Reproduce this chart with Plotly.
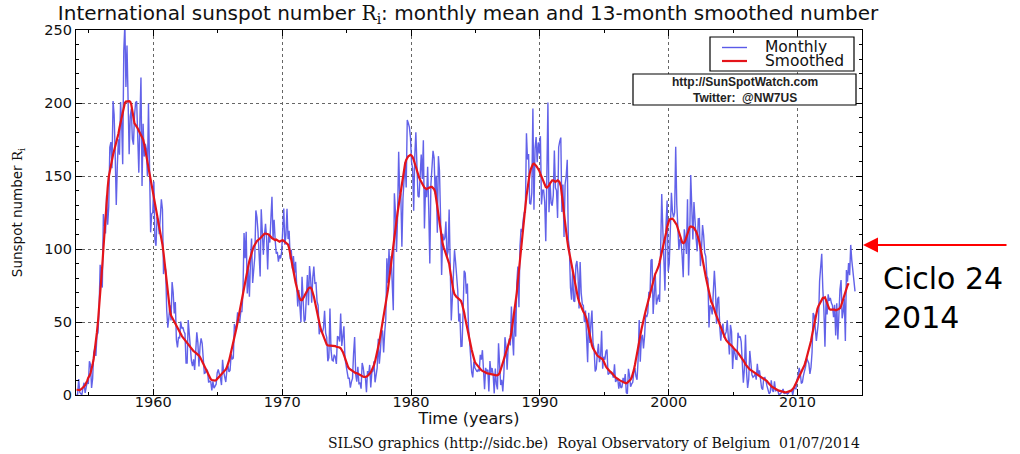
import numpy as np
import plotly.graph_objects as go

# ---------------- data ----------------
start_year = 1954

# monthly mean sunspot number, Jan 1954 .. Jun 2014 (12 values per row = one year)
monthly_ri = [
    0.2, 0.5, 10.9, 1.8, 0.8, 0.2, 4.8, 8.4, 1.5, 7.0, 9.2, 7.6,             # 1954
    23.1, 20.8, 4.9, 11.3, 28.9, 31.7, 26.7, 40.7, 42.7, 58.5, 89.2, 76.9,   # 1955
    73.6, 124.0, 118.4, 110.7, 136.6, 116.6, 129.1, 169.6, 173.2, 155.3, 201.3, 192.1,  # 1956
    165.0, 130.2, 157.4, 175.2, 164.6, 200.7, 187.2, 158.0, 235.8, 253.8, 210.9, 239.4,  # 1957
    202.5, 164.9, 190.7, 196.0, 175.3, 171.5, 191.4, 200.2, 201.2, 181.5, 152.3, 187.6,  # 1958
    217.4, 143.1, 185.7, 163.3, 172.0, 168.7, 149.6, 199.6, 145.2, 111.4, 124.0, 125.0,  # 1959
    146.3, 106.0, 102.2, 122.0, 119.6, 110.2, 121.7, 134.1, 127.2, 82.8, 89.6, 85.6,     # 1960
    57.9, 46.1, 53.0, 61.4, 51.0, 77.4, 70.2, 55.8, 63.6, 37.7, 32.6, 39.9,   # 1961
    38.7, 50.3, 45.6, 46.4, 43.7, 42.0, 21.8, 21.8, 51.3, 39.5, 26.9, 23.2,   # 1962
    19.8, 24.4, 17.1, 29.3, 43.0, 35.9, 19.6, 33.2, 38.8, 35.3, 23.4, 14.9,   # 1963
    15.3, 17.7, 16.5, 8.6, 9.5, 9.1, 3.1, 9.3, 4.7, 6.1, 7.4, 15.1,           # 1964
    17.5, 14.2, 11.7, 6.8, 24.1, 15.9, 11.9, 8.9, 16.8, 20.1, 15.8, 17.0,     # 1965
    28.2, 24.4, 25.3, 48.7, 45.3, 47.7, 56.7, 51.2, 50.2, 57.2, 57.2, 70.4,   # 1966
    110.9, 93.6, 111.8, 69.5, 86.5, 67.3, 91.5, 107.2, 76.8, 88.2, 94.3, 126.4,  # 1967
    121.8, 111.9, 92.2, 81.2, 127.2, 110.3, 96.1, 109.3, 117.2, 107.7, 86.0, 109.8,  # 1968
    104.4, 120.5, 135.8, 106.8, 120.0, 106.0, 96.8, 98.0, 91.3, 95.7, 93.5, 97.9,    # 1969
    111.5, 127.8, 102.9, 109.5, 127.5, 106.8, 112.5, 93.0, 99.5, 86.6, 95.2, 83.5,   # 1970
    91.3, 79.0, 60.7, 71.8, 57.5, 49.8, 81.0, 61.4, 50.2, 51.7, 63.2, 82.2,   # 1971
    61.5, 88.4, 80.1, 63.2, 80.5, 88.0, 76.5, 76.8, 64.0, 61.3, 41.6, 45.3,   # 1972
    43.4, 42.9, 46.0, 57.7, 42.4, 39.5, 23.1, 25.6, 59.3, 30.7, 23.9, 23.3,   # 1973
    27.6, 26.0, 21.3, 40.3, 39.5, 36.6, 55.8, 33.6, 40.2, 47.1, 25.0, 20.5,   # 1974
    18.9, 11.5, 11.5, 5.1, 9.0, 11.4, 28.2, 39.7, 13.9, 9.1, 19.4, 7.8,       # 1975
    8.1, 4.3, 21.9, 18.8, 12.4, 12.2, 1.9, 16.4, 13.5, 20.6, 5.2, 15.3,       # 1976
    16.4, 23.1, 8.7, 12.9, 18.6, 38.5, 21.4, 30.1, 44.0, 43.8, 29.1, 43.2,    # 1977
    51.9, 93.6, 76.5, 99.7, 82.7, 95.1, 70.4, 58.1, 138.2, 125.1, 97.9, 122.7,      # 1978
    166.6, 137.5, 138.0, 101.5, 134.4, 149.5, 159.4, 142.2, 188.4, 186.2, 183.3, 176.3,  # 1979
    159.6, 155.0, 126.2, 164.1, 179.9, 157.3, 136.3, 135.4, 155.0, 164.7, 147.9, 174.4,  # 1980
    114.0, 141.3, 135.5, 156.4, 127.5, 90.0, 143.8, 158.7, 167.3, 162.4, 137.5, 150.1,   # 1981
    111.2, 163.6, 153.8, 122.0, 82.2, 110.4, 106.1, 107.6, 118.8, 94.7, 98.1, 127.0,     # 1982
    84.3, 51.0, 66.5, 80.7, 99.2, 91.1, 82.2, 71.8, 50.3, 55.8, 33.3, 33.4,   # 1983
    57.0, 85.1, 83.5, 69.4, 76.4, 46.1, 37.4, 25.5, 15.7, 12.0, 22.8, 18.7,   # 1984
    16.5, 15.9, 17.2, 16.2, 27.5, 24.2, 30.7, 11.1, 3.9, 18.6, 16.2, 17.3,    # 1985
    2.5, 23.2, 15.1, 18.5, 13.7, 1.1, 18.1, 7.4, 3.8, 35.4, 15.2, 6.8,        # 1986
    10.4, 2.4, 14.7, 39.6, 33.0, 17.4, 33.0, 38.7, 33.9, 60.6, 39.9, 27.1,    # 1987
    59.0, 40.0, 76.2, 88.0, 60.1, 101.8, 113.8, 111.6, 120.1, 125.1, 125.1, 179.2,   # 1988
    161.3, 165.1, 131.4, 130.6, 138.5, 196.2, 126.9, 168.9, 176.7, 159.4, 173.0, 165.5,  # 1989
    177.3, 130.5, 140.3, 140.3, 132.2, 105.4, 149.4, 200.3, 125.2, 145.5, 131.4, 129.7,  # 1990
    136.9, 167.5, 141.9, 140.0, 121.3, 169.7, 173.7, 176.3, 125.3, 144.1, 108.2, 144.4,  # 1991
    150.0, 161.1, 106.7, 99.8, 73.8, 65.2, 85.7, 64.5, 63.9, 88.7, 91.8, 82.6,       # 1992
    59.3, 91.0, 69.8, 62.2, 61.3, 49.8, 57.9, 42.3, 22.4, 56.4, 35.6, 48.9,   # 1993
    57.8, 35.5, 31.7, 16.1, 17.8, 28.0, 35.1, 22.5, 25.7, 44.0, 18.0, 26.2,   # 1994
    24.2, 29.9, 31.1, 14.0, 14.5, 15.6, 14.5, 14.3, 11.8, 21.1, 9.0, 10.0,    # 1995
    11.5, 4.4, 9.2, 4.8, 5.5, 11.8, 8.2, 14.4, 1.6, 0.9, 17.9, 13.3,          # 1996
    5.7, 7.6, 8.7, 15.5, 18.5, 12.7, 10.4, 24.4, 51.3, 22.8, 39.0, 41.2,      # 1997
    31.9, 40.3, 54.8, 53.4, 56.3, 70.7, 66.6, 92.2, 92.9, 55.5, 74.0, 81.9,   # 1998
    62.0, 66.3, 68.8, 63.7, 106.4, 137.7, 113.5, 93.7, 71.5, 116.7, 133.2, 84.6,     # 1999
    90.1, 112.9, 138.5, 125.5, 121.6, 124.9, 170.1, 130.5, 109.7, 99.4, 106.8, 104.4,  # 2000
    95.6, 80.6, 113.5, 107.7, 96.6, 134.0, 81.8, 106.4, 150.7, 125.5, 106.5, 132.2,    # 2001
    114.1, 107.4, 98.4, 120.7, 120.8, 88.3, 99.6, 116.4, 109.6, 97.5, 95.0, 81.6,      # 2002
    79.5, 46.2, 61.5, 60.0, 55.2, 77.4, 85.0, 72.7, 48.8, 65.6, 67.2, 47.0,   # 2003
    37.2, 46.0, 48.9, 39.3, 41.5, 43.2, 51.1, 40.9, 27.7, 48.0, 43.5, 17.9,   # 2004
    31.3, 29.2, 24.5, 24.4, 42.7, 39.3, 40.1, 36.4, 22.1, 8.5, 18.0, 41.2,    # 2005
    15.3, 4.9, 10.6, 30.2, 22.3, 13.9, 12.2, 12.9, 14.4, 10.5, 21.4, 13.6,    # 2006
    16.9, 10.6, 4.8, 3.7, 11.7, 12.0, 10.0, 6.2, 2.4, 0.9, 1.7, 10.1,         # 2007
    3.3, 2.1, 9.3, 2.9, 3.2, 3.4, 0.5, 0.5, 1.1, 2.9, 4.1, 0.8,               # 2008
    1.5, 1.4, 0.7, 1.2, 2.9, 2.6, 3.5, 0.0, 4.2, 4.6, 4.2, 10.6,              # 2009
    13.1, 18.6, 15.4, 7.9, 8.8, 13.5, 16.1, 19.6, 25.2, 23.5, 21.6, 14.5,     # 2010
    19.0, 29.4, 56.2, 54.4, 41.6, 37.0, 43.9, 50.6, 78.0, 88.0, 96.7, 73.0,   # 2011
    58.3, 33.1, 64.3, 55.2, 69.0, 64.5, 66.5, 63.0, 61.4, 53.3, 61.8, 40.8,   # 2012
    62.9, 38.1, 57.9, 72.4, 78.7, 52.5, 57.0, 66.0, 37.0, 85.6, 77.6, 90.3,   # 2013
    82.0, 102.8, 92.2, 84.7, 75.2, 71.0,                                      # 2014
]

# 13-month smoothed sunspot number, Jan 1954 .. Dec 2013
smoothed_ri = [
    3.6, 3.5, 3.4, 3.4, 3.8, 4.3, 5.0, 5.8, 6.8, 7.9, 9.8, 12.0,              # 1954
    13.0, 15.0, 17.5, 21.0, 25.0, 30.0, 36.0, 43.0, 50.5, 59.0, 68.0, 78.0,   # 1955
    89.0, 100.0, 112.0, 124.0, 134.0, 142.0, 149.5, 154.0, 158.0, 161.5, 164.5, 167.5,  # 1956
    170.0, 172.5, 175.5, 179.0, 183.0, 186.5, 190.0, 193.5, 197.0, 200.0, 201.0, 201.2,  # 1957
    201.0, 201.3, 200.8, 199.0, 194.5, 189.0, 186.0, 185.0, 184.0, 182.5, 181.0, 179.5,  # 1958
    178.5, 177.0, 175.0, 172.0, 168.0, 163.5, 159.0, 154.5, 150.0, 146.0, 142.0, 138.5,  # 1959
    135.0, 131.0, 127.0, 123.0, 119.0, 115.0, 111.0, 107.0, 103.0, 97.5, 91.0, 84.0,     # 1960
    76.0, 69.0, 63.0, 58.0, 54.5, 53.0, 52.0, 50.5, 48.5, 47.0, 46.0, 44.5,   # 1961
    43.0, 41.5, 40.5, 39.5, 38.5, 37.5, 36.5, 35.5, 34.5, 33.5, 32.5, 31.5,   # 1962
    30.5, 30.0, 29.5, 29.0, 28.5, 28.0, 27.0, 26.0, 24.5, 22.5, 20.5, 19.0,   # 1963
    17.5, 16.0, 14.5, 13.0, 11.8, 10.8, 10.3, 10.1, 10.0, 9.8, 10.2, 11.0,    # 1964
    11.8, 12.5, 13.3, 14.2, 15.0, 15.8, 16.5, 17.5, 19.0, 21.0, 23.5, 26.5,   # 1965
    29.5, 32.5, 35.5, 39.0, 42.5, 46.0, 50.0, 54.0, 58.0, 62.5, 67.0, 71.0,   # 1966
    74.5, 78.0, 81.5, 85.0, 88.5, 92.0, 95.0, 97.5, 99.5, 101.5, 103.0, 104.5,     # 1967
    105.5, 106.0, 106.5, 107.0, 108.0, 109.0, 110.0, 110.5, 110.6, 110.4, 110.6, 110.0,  # 1968
    109.0, 108.0, 107.5, 107.0, 106.5, 106.0, 106.5, 106.0, 105.5, 105.0, 105.5, 106.0,  # 1969
    106.0, 105.5, 105.0, 104.5, 104.0, 103.0, 100.5, 97.0, 93.0, 89.0, 85.0, 81.0,       # 1970
    77.0, 73.5, 70.5, 68.0, 66.0, 65.0, 65.0, 66.0, 67.5, 69.0, 70.5, 72.0,   # 1971
    73.0, 73.5, 73.5, 72.5, 70.5, 67.5, 64.0, 60.0, 56.0, 52.5, 49.5, 46.5,   # 1972
    44.0, 42.0, 40.0, 38.0, 36.0, 34.5, 34.0, 34.0, 34.0, 34.0, 34.0, 33.5,   # 1973
    33.5, 33.5, 33.0, 33.0, 33.0, 32.5, 32.0, 31.0, 29.5, 27.5, 25.5, 23.0,   # 1974
    20.5, 19.0, 18.0, 17.5, 17.0, 16.0, 15.5, 15.0, 15.0, 15.0, 14.5, 14.0,   # 1975
    13.5, 13.0, 12.8, 12.5, 12.4, 12.2, 12.5, 13.0, 13.5, 14.5, 15.5, 17.0,   # 1976
    18.5, 20.5, 23.0, 26.0, 29.0, 32.5, 36.5, 41.0, 45.5, 50.0, 54.0, 57.5,   # 1977
    61.0, 66.0, 72.0, 78.5, 85.0, 91.5, 97.5, 103.0, 108.5, 114.0, 119.5, 125.0,         # 1978
    130.0, 135.0, 140.0, 145.0, 150.0, 155.0, 158.5, 161.0, 162.5, 163.5, 164.0, 164.5,  # 1979
    164.0, 163.0, 161.0, 158.5, 155.5, 152.5, 150.5, 149.0, 147.5, 146.0, 144.5, 143.0,  # 1980
    142.0, 141.5, 141.0, 141.5, 142.0, 142.5, 142.5, 142.5, 142.0, 141.0, 139.0, 134.0,  # 1981
    126.0, 120.5, 115.5, 111.0, 107.0, 103.5, 101.0, 99.0, 97.0, 95.0, 93.0, 90.0,       # 1982
    85.0, 80.0, 75.5, 71.5, 69.0, 67.5, 67.0, 66.5, 66.0, 65.5, 64.5, 62.5,   # 1983
    60.0, 56.5, 52.5, 48.5, 45.0, 41.5, 38.0, 34.5, 31.0, 28.0, 25.0, 22.5,   # 1984
    21.5, 20.5, 19.5, 18.5, 17.5, 17.0, 16.5, 16.0, 15.5, 15.2, 15.0, 14.8,   # 1985
    14.6, 14.4, 14.2, 14.0, 13.8, 13.5, 13.5, 13.4, 13.6, 14.0, 15.0, 17.0,   # 1986
    19.5, 22.0, 24.5, 27.0, 29.5, 31.5, 33.5, 36.0, 39.0, 43.0, 48.0, 54.0,   # 1987
    57.0, 63.0, 70.0, 78.0, 86.0, 94.0, 101.0, 108.0, 115.0, 122.0, 129.0, 136.0,        # 1988
    142.0, 147.0, 151.5, 154.5, 156.5, 158.0, 158.5, 158.0, 157.0, 156.0, 155.0, 153.5,  # 1989
    151.5, 149.5, 147.5, 145.5, 144.0, 142.5, 142.0, 142.5, 143.5, 145.0, 146.5, 147.0,  # 1990
    147.0, 146.5, 146.0, 146.5, 147.0, 146.5, 145.5, 143.0, 138.0, 131.0, 124.0, 117.0,  # 1991
    111.0, 106.0, 101.0, 97.0, 93.5, 90.0, 85.5, 80.5, 76.0, 72.5, 69.5, 66.5,   # 1992
    64.0, 62.0, 60.0, 58.0, 57.0, 56.0, 54.5, 52.0, 48.5, 44.5, 40.5, 37.0,   # 1993
    34.0, 32.0, 30.5, 29.0, 28.0, 27.0, 26.5, 26.0, 25.5, 25.0, 24.5, 23.0,   # 1994
    21.0, 19.5, 18.5, 17.5, 16.5, 16.0, 15.5, 14.5, 13.5, 12.5, 12.0, 11.5,   # 1995
    11.2, 10.5, 10.0, 9.5, 9.0, 8.8, 8.5, 8.3, 8.0, 8.5, 9.0, 9.5,            # 1996
    10.5, 12.0, 14.0, 17.0, 20.5, 24.0, 28.0, 32.5, 36.5, 40.5, 44.5, 48.5,   # 1997
    51.5, 54.5, 57.5, 60.5, 63.5, 67.0, 69.5, 72.5, 75.0, 78.0, 81.0, 83.0,   # 1998
    84.5, 86.0, 88.0, 91.0, 94.0, 97.5, 101.0, 104.5, 107.5, 111.0, 115.0, 118.5,        # 1999
    120.0, 120.5, 120.5, 120.8, 120.0, 119.0, 118.0, 116.5, 114.0, 111.5, 108.5, 106.0,  # 2000
    104.5, 104.0, 104.5, 106.0, 108.5, 111.0, 113.5, 115.0, 115.5, 115.5, 115.0, 114.5,  # 2001
    113.5, 112.0, 110.0, 108.0, 105.0, 101.0, 96.5, 92.0, 88.0, 84.5, 81.0, 77.5,        # 2002
    74.0, 70.5, 67.0, 64.0, 62.5, 61.0, 58.5, 56.0, 54.0, 52.5, 51.0, 49.0,   # 2003
    46.5, 44.0, 42.0, 40.5, 39.0, 37.5, 36.5, 35.5, 35.0, 34.5, 34.0, 33.0,   # 2004
    32.0, 31.0, 30.5, 30.0, 29.0, 28.0, 27.0, 26.0, 25.0, 24.0, 22.5, 21.0,   # 2005
    20.0, 19.0, 18.0, 17.5, 17.0, 16.5, 16.0, 15.5, 15.0, 14.8, 14.5, 14.0,   # 2006
    13.5, 13.0, 12.0, 11.5, 11.0, 10.5, 10.0, 9.5, 8.5, 7.5, 6.5, 6.0,        # 2007
    5.5, 5.0, 4.5, 4.0, 3.5, 3.2, 3.0, 2.8, 2.5, 2.2, 2.0, 1.8,               # 2008
    1.8, 1.9, 2.0, 2.2, 2.4, 2.8, 3.3, 4.0, 5.0, 6.5, 8.0, 9.5,               # 2009
    11.0, 12.5, 14.0, 15.5, 17.0, 18.5, 20.5, 23.0, 25.5, 28.0, 30.5, 33.5,   # 2010
    37.0, 41.0, 45.0, 48.5, 52.0, 56.0, 59.0, 61.0, 62.5, 64.0, 65.5, 66.5,   # 2011
    66.5, 66.9, 65.0, 62.5, 60.5, 59.0, 58.5, 58.5, 59.0, 59.0, 58.5, 58.0,   # 2012
    58.0, 58.5, 59.0, 59.5, 61.0, 63.5, 65.5, 67.5, 70.0, 72.5, 75.0, 76.5,   # 2013
]

x_ticks = [1960, 1970, 1980, 1990, 2000, 2010]
y_ticks = [0, 50, 100, 150, 200, 250]

# ---------------- figure ----------------
W, H = 1020, 454
L, R, T, B = 76, 862, 30, 395          # plot area in pixels


def px(xp):
    return (xp - L) / (R - L)


def py(yp):
    return (B - yp) / (B - T)


t_month = start_year + (np.arange(len(monthly_ri)) + 0.5) / 12.0
t_smooth = start_year + (np.arange(len(smoothed_ri)) + 0.5) / 12.0

BLUE = "#5a5ae8"
RED = "#e4141a"
SANS = "DejaVu Sans"
SERIF = "DejaVu Serif"

fig = go.Figure()
fig.add_trace(go.Scatter(x=t_month, y=monthly_ri, mode="lines", name="Monthly",
                         line=dict(color=BLUE, width=1.4), opacity=0.95))
fig.add_trace(go.Scatter(x=t_smooth, y=smoothed_ri, mode="lines", name="Smoothed",
                         line=dict(color=RED, width=2.2)))

axis_common = dict(
    showline=True, linecolor="black", linewidth=1.2, mirror="allticks",
    ticks="inside", ticklen=6, tickcolor="black", tickwidth=1,
    showgrid=True, gridcolor="#666666", griddash="dot", gridwidth=1,
    zeroline=False, tickfont=dict(family=SANS, size=14.5, color="#111111"),
)

fig.update_xaxes(range=[1954, 2015], tickvals=x_ticks,
                 ticktext=[str(v) for v in x_ticks], ticklabelstandoff=-7,
                 minor=dict(dtick=5, tick0=1955, ticks="inside", ticklen=3,
                            tickcolor="black", showgrid=False),
                 title=dict(text="Time (years)", font=dict(family=SANS, size=16, color="#111111"),
                            standoff=0),
                 **axis_common)
fig.update_yaxes(range=[0, 250], tickvals=y_ticks,
                 ticktext=[str(v) for v in y_ticks],
                 minor=dict(dtick=10, tick0=0, ticks="inside", ticklen=3,
                            tickcolor="black", showgrid=False),
                 title=dict(text="Sunspot number <span style=\"font-family:DejaVu Serif\">R<sub>i</sub></span>",
                            font=dict(family=SANS, size=13.5, color="#111111"), standoff=18),
                 **axis_common)

shapes = []
annotations = []

# legend box (drawn by hand to match the compact original)
shapes.append(dict(type="rect", xref="paper", yref="paper",
                   x0=px(710), x1=px(854), y0=py(71), y1=py(37),
                   line=dict(color="black", width=1.2), fillcolor="white", layer="above"))
for yy, col, lbl in [(47.5, BLUE, "Monthly"), (61, RED, "Smoothed")]:
    shapes.append(dict(type="line", xref="paper", yref="paper",
                       x0=px(722), x1=px(747), y0=py(yy), y1=py(yy),
                       line=dict(color=col, width=2.2 if col == RED else 1.4), layer="above"))
    annotations.append(dict(xref="paper", yref="paper", x=px(763), y=py(yy),
                            xanchor="left", yanchor="middle", showarrow=False, text=lbl,
                            font=dict(family=SANS, size=15.5, color="#111111")))

# credit box
shapes.append(dict(type="rect", xref="paper", yref="paper",
                   x0=px(633), x1=px(856), y0=py(105), y1=py(74),
                   line=dict(color="black", width=1.2), fillcolor="white", layer="above"))
annotations.append(dict(xref="paper", yref="paper", x=px(745), y=py(89.5),
                        xanchor="center", yanchor="middle", showarrow=False,
                        text="<b>http://SunSpotWatch.com<br>Twitter:&nbsp;&nbsp;@NW7US</b>",
                        font=dict(family="Liberation Sans", size=12, color="#222222")))

# red arrow pointing at the axis
annotations.append(dict(xref="paper", yref="paper", x=px(863), y=py(245),
                        ax=1008 - 863, ay=0, axref="pixel", ayref="pixel",
                        text="", showarrow=True, arrowhead=2, arrowsize=1.5,
                        arrowwidth=2, arrowcolor="#ff0000", standoff=0))
annotations.append(dict(xref="paper", yref="paper", x=px(881), y=py(278.5),
                        xanchor="left", yanchor="middle", showarrow=False, text="Ciclo 24",
                        font=dict(family=SANS, size=30, color="black")))
annotations.append(dict(xref="paper", yref="paper", x=px(881), y=py(317.5),
                        xanchor="left", yanchor="middle", showarrow=False, text="2014",
                        font=dict(family=SANS, size=30, color="black")))

# footer
annotations.append(dict(xref="paper", yref="paper", x=px(862), y=py(443),
                        xanchor="right", yanchor="middle", showarrow=False,
                        text="SILSO graphics (http://sidc.be)&nbsp; Royal Observatory of Belgium&nbsp; 01/07/2014",
                        font=dict(family=SERIF, size=14, color="#111111")))

fig.update_layout(
    width=W, height=H,
    margin=dict(l=L, r=W - R, t=T, b=H - B, autoexpand=False),
    paper_bgcolor="white", plot_bgcolor="white",
    showlegend=False,
    title=dict(text="International sunspot number <span style=\"font-family:DejaVu Serif\">R<sub>i</sub></span>: monthly mean and 13-month smoothed number",
               x=468 / W, xanchor="center", y=1 - 13 / H, yanchor="middle",
               font=dict(family=SANS, size=20, color="#111111")),
    shapes=shapes, annotations=annotations,
)

fig.write_html("out.html")
